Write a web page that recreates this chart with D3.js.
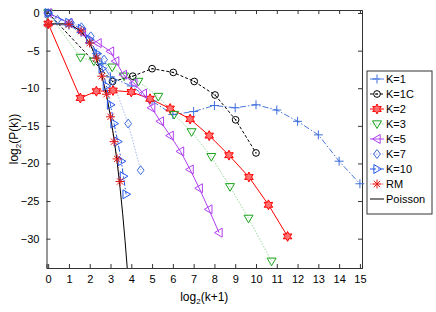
<!DOCTYPE html>
<html>
<head>
<meta charset="utf-8">
<script src="https://cdn.jsdelivr.net/npm/d3@7"></script>
<style>
  body { margin: 0; background: #fff; }
  svg { font-family: "Liberation Sans", Arial, sans-serif; }
</style>
</head>
<body>
<svg id="chart" width="436" height="312"></svg>
<script>
// series values: [log2(k+1), log2(P(k))]
const k1 = [[0,-1.5],[1,-1.6],[1.585,-2.6],[2,-3.9],[2.32,-5.4],[2.585,-6.7],[3,-8.5],[4,-9.7],[5,-11.7],[6,-13.5],[7,-13.1],[8,-12.3],[9,-12.6],[10,-12.2],[11,-12.9],[12,-14.4],[13,-16.2],[14,-19.7],[15,-22.7]];
const k1c = [[0,0],[3.1,-9.1],[4.07,-8.4],[5,-7.4],[6.02,-7.9],[7.03,-9.1],[8.03,-10.9],[9.02,-14.2],[10,-18.6]];
const k2 = [[0,-1.4],[1.55,-11.3],[2.32,-10.4],[3.12,-10.3],[4.0,-10.5],[4.9,-11.4],[5.87,-12.7],[6.83,-14.1],[7.75,-16.3],[8.7,-18.9],[9.66,-21.8],[10.6,-25.5],[11.52,-29.7]];
const k3 = [[0,0],[1.56,-5.9],[2.2,-6.4],[3.08,-7.2],[3.65,-8.4],[4.34,-9.1],[5.3,-11.1],[6.06,-13.5],[6.9,-15.8],[7.85,-19.1],[8.75,-23.1],[9.64,-27.3],[10.75,-33.0]];
const k5 = [[0,0],[1.0,-1.3],[1.65,-2.6],[2.4,-4.0],[3.0,-5.1],[3.25,-6.4],[3.62,-8.2],[4.12,-9.3],[4.58,-10.7],[4.98,-12.6],[5.4,-14.4],[5.87,-16.3],[6.37,-18.4],[6.83,-20.8],[7.27,-23.3],[7.73,-26.1],[8.22,-29.2]];
const k7 = [[0,0],[0.45,-0.9],[1.1,-1.3],[1.6,-1.9],[2.05,-3.1],[2.69,-6.2],[3.1,-9.0],[3.85,-14.7],[4.45,-20.9]];
const k10 = [[0,0],[1,-1.3],[1.6,-2.1],[2.0,-3.5],[2.35,-5.4],[2.6,-7.4],[2.8,-9.7],[3.0,-12.2],[3.17,-14.7],[3.35,-17.1],[3.52,-19.7],[3.62,-21.7],[3.75,-24.1]];
const rm = [[0,-1.5],[1,-1.5],[1.585,-2.4],[2,-4.0],[2.32,-6.0],[2.585,-8.4],[2.807,-10.8],[3,-13.8],[3.17,-17.1],[3.32,-19.4],[3.46,-22.4]];
const poisson = [[0,-1.44],[1,-1.44],[1.585,-2.44],[2,-4.03],[2.322,-6.03],[2.585,-8.35],[2.807,-10.94],[3,-13.74],[3.17,-16.74],[3.322,-19.91],[3.459,-23.24],[3.585,-26.70],[3.7,-30.29],[3.807,-33.98]];

const seriesNames = ["K=1","K=1C","K=2","K=3","K=5","K=7","K=10","RM","Poisson"];
const xTicks = d3.range(0, 16);
const yTicks = [0,-5,-10,-15,-20,-25,-30];

const styles = [
  {data: k1,  color: "#3f6fdc", line: "#4a78dd", dash: "6,2,1.5,2", marker: "plus"},
  {data: k1c, color: "#000",    line: "#000",    dash: "3,2",       marker: "circle"},
  {data: k2,  color: "#f00",    line: "#f00",    dash: null,        marker: "hexagram"},
  {data: k3,  color: "#1aa31a", line: "#9ad89a", dash: "1.5,1.5",   marker: "down"},
  {data: k5,  color: "#b040f0", line: "#b040f0", dash: null,        marker: "left"},
  {data: k7,  color: "#3f6fdc", line: "#a8b8ee", dash: "1.5,1.5",   marker: "diamond"},
  {data: k10, color: "#2456e8", line: "#2456e8", dash: "6,2,1.5,2", marker: "right"},
  {data: rm,  color: "#e01818", line: "#f08080", dash: "1.5,1.5",   marker: "asterisk"},
  {data: poisson, color: "#000", line: "#000",   dash: null,        marker: null}
];

const svg = d3.select("#chart");
const plotLeft = 46.5, plotRight = 362, plotTop = 10, plotBottom = 268;

const x = d3.scaleLinear().domain([-0.08, 15.1]).range([plotLeft, plotRight]);
const y = d3.scaleLinear().domain([-33.9, 0.4]).range([plotBottom, plotTop]);

svg.append("defs").append("clipPath").attr("id", "clip")
  .append("rect").attr("x", plotLeft).attr("y", plotTop)
  .attr("width", plotRight - plotLeft).attr("height", plotBottom - plotTop);

// marker shapes
function markerPath(type, s) {
  const p = d3.path();
  if (type === "plus") {
    p.moveTo(-s, 0); p.lineTo(s, 0); p.moveTo(0, -s); p.lineTo(0, s);
  } else if (type === "asterisk") {
    const d = s * 0.7;
    p.moveTo(-s, 0); p.lineTo(s, 0); p.moveTo(0, -s); p.lineTo(0, s);
    p.moveTo(-d, -d); p.lineTo(d, d); p.moveTo(-d, d); p.lineTo(d, -d);
  } else if (type === "circle") {
    p.arc(0, 0, s * 0.8, 0, 2 * Math.PI);
  } else if (type === "diamond") {
    p.moveTo(0, -s); p.lineTo(s * 0.75, 0); p.lineTo(0, s); p.lineTo(-s * 0.75, 0); p.closePath();
  } else if (type === "down") {
    p.moveTo(-s, -s * 0.7); p.lineTo(s, -s * 0.7); p.lineTo(0, s); p.closePath();
  } else if (type === "left") {
    p.moveTo(s * 0.7, -s); p.lineTo(s * 0.7, s); p.lineTo(-s, 0); p.closePath();
  } else if (type === "right") {
    p.moveTo(-s * 0.7, -s); p.lineTo(-s * 0.7, s); p.lineTo(s, 0); p.closePath();
  } else if (type === "hexagram") {
    const pts = [];
    for (let i = 0; i < 12; i++) {
      const r = i % 2 === 0 ? s * 1.1 : s * 0.6;
      const a = -Math.PI / 2 + i * Math.PI / 6;
      pts.push([r * Math.cos(a), r * Math.sin(a)]);
    }
    p.moveTo(pts[0][0], pts[0][1]);
    pts.slice(1).forEach(q => p.lineTo(q[0], q[1]));
    p.closePath();
  }
  return p.toString();
}

function drawMarker(g, type, color, cx, cy) {
  const m = g.append("g").attr("transform", `translate(${cx},${cy})`);
  m.append("path").attr("d", markerPath(type, type === "circle" ? 4.2 : 4.5))
    .attr("fill", type === "hexagram" ? "#ff7070" : "none")
    .attr("stroke", color).attr("stroke-width", 1);
  if (type === "circle") {
    m.append("circle").attr("r", 0.7).attr("fill", color);
  }
}

// axes, ticks inward on all four sides
const xAxis = d3.axisBottom(x).tickValues(xTicks).tickSize(-4).tickPadding(7);
const yAxis = d3.axisLeft(y).tickValues(yTicks).tickSize(-4).tickPadding(7)
  .tickFormat(d => d === 0 ? "0" : "\u2212" + Math.abs(d));

svg.append("g").attr("transform", `translate(0,${plotBottom})`).call(xAxis);
svg.append("g").attr("transform", `translate(${plotLeft},0)`).call(yAxis);
svg.append("g").attr("transform", `translate(0,${plotTop})`)
  .call(d3.axisTop(x).tickValues(xTicks).tickSize(-4).tickFormat(""));
svg.append("g").attr("transform", `translate(${plotRight},0)`)
  .call(d3.axisRight(y).tickValues(yTicks).tickSize(-4).tickFormat(""));

svg.selectAll(".domain").attr("stroke", "#333");
svg.selectAll(".tick line").attr("stroke", "#333");
svg.selectAll(".tick text").attr("font-size", 11).attr("fill", "#000")
  .attr("font-family", "Liberation Sans, Arial, sans-serif");

// lines
const plot = svg.append("g").attr("clip-path", "url(#clip)");
const line = d3.line().x(d => x(d[0])).y(d => y(d[1]));

styles.forEach(st => {
  plot.append("path").datum(st.data)
    .attr("d", line)
    .attr("fill", "none")
    .attr("stroke", st.line)
    .attr("stroke-width", 1)
    .attr("stroke-dasharray", st.dash);
});

// markers (not clipped)
const marks = svg.append("g");
styles.forEach(st => {
  if (!st.marker) return;
  st.data.forEach(d => drawMarker(marks, st.marker, st.color, x(d[0]), y(d[1])));
});

// axis labels
svg.append("text").attr("x", (plotLeft + plotRight) / 2).attr("y", 301)
  .attr("text-anchor", "middle").attr("font-size", 12)
  .html('log<tspan font-size="8" dy="3">2</tspan><tspan dy="-3">(k+1)</tspan>');

svg.append("text").attr("transform", `translate(18,${(plotTop + plotBottom) / 2}) rotate(-90)`)
  .attr("text-anchor", "middle").attr("font-size", 12)
  .html('log<tspan font-size="8" dy="3">2</tspan><tspan dy="-3">(P(k))</tspan>');

// legend
const lg = svg.append("g");
lg.append("rect").attr("x", 367).attr("y", 71).attr("width", 65).attr("height", 143)
  .attr("fill", "#fff").attr("stroke", "#333").attr("stroke-width", 1);

styles.forEach((st, i) => {
  const ly = 79 + i * 15;
  lg.append("line").attr("x1", 370).attr("x2", 384).attr("y1", ly).attr("y2", ly)
    .attr("stroke", st.line).attr("stroke-width", 1).attr("stroke-dasharray", st.dash);
  if (st.marker) drawMarker(lg, st.marker, st.color, 377, ly);
  lg.append("text").attr("x", 386).attr("y", ly + 4).attr("font-size", 11)
    .text(seriesNames[i]);
});
</script>
</body>
</html>
